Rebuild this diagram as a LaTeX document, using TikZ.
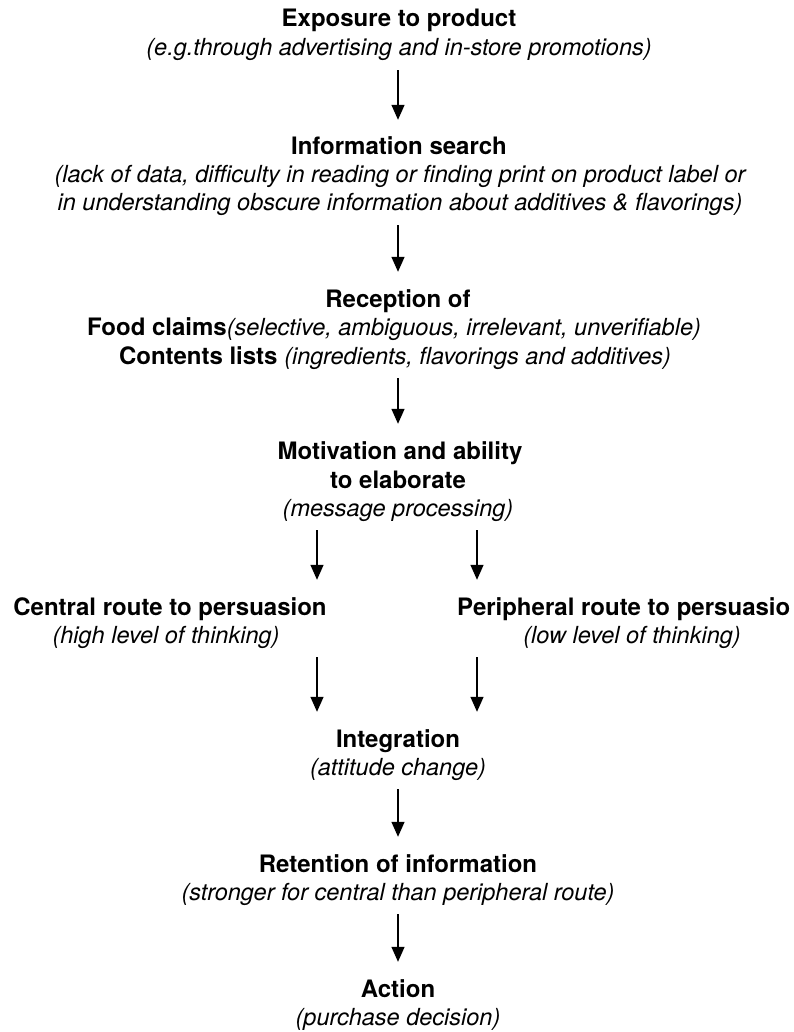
\documentclass[tikz,border=0pt]{standalone}
\usepackage{fontspec}
\setmainfont{TeX Gyre Heros}
\usetikzlibrary{arrows.meta}
\newcommand{\notefont}{\mdseries\itshape\fontsize{23.5}{28}\selectfont}
\begin{document}
\begin{tikzpicture}[x=1pt,y=-1pt,
  title/.style={font=\bfseries\fontsize{24}{29}\selectfont, inner sep=0pt,
    text height=17pt, text depth=5pt, anchor=base},
  note/.style={font=\notefont, inner sep=0pt,
    text height=17pt, text depth=5pt, anchor=base},
  flow/.style={line width=1.4pt, -{Triangle[length=15pt,width=13pt]},
    shorten <=9pt, shorten >=18pt}]
\useasboundingbox (0,0) rectangle (793,1032);
\coordinate (mid) at (398,0);
\coordinate (lx) at (317,0);
\coordinate (rx) at (477,0);

% Exposure
\node[title] (exp) at (399,27) {Exposure to product};
\node[note] (expn) at (399,56) {(e.g.through advertising and in-store promotions)};

% Information search
\node[title] (info) at (399,155) {Information search};
\node[note] (info1) at (400,183) {(lack of data, difficulty in reading or finding print on product label or};
\node[note] (info2) at (400,211) {in understanding obscure information about additives \& flavorings)};

% Reception
\node[title] (rec) at (398,307) {Reception of};
\node[title] (food) at (394,335) {Food claims{\notefont(selective, ambiguous, irrelevant, unverifiable)}};
\node[title] (cont) at (395,364) {Contents lists {\notefont(ingredients, flavorings and additives)}};

% Motivation
\node[title] (mot1) at (400,459) {Motivation and ability};
\node[title] (mot2) at (398,488) {to elaborate};
\node[note] (mot3) at (398,516) {(message processing)};

% Two routes
\node[title] (cen) at (170,615) {Central route to persuasion};
\node[note] (cenn) at (166,643) {(high level of thinking)};
\node[title, anchor=base west] (per) at (457,615) {Peripheral route to persuasio};
\node[note] (pern) at (632,643) {(low level of thinking)};

% Integration
\node[title] (integ) at (398,747) {Integration};
\node[note] (integn) at (398,775) {(attitude change)};

% Retention
\node[title] (ret) at (398,872) {Retention of information};
\node[note] (retn) at (398,900) {(stronger for central than peripheral route)};

% Action
\node[title] (act) at (398,997) {Action};
\node[note] (actn) at (398,1025) {(purchase decision)};

% connectors
\draw[flow] (expn.south -| mid) -- (info.north -| mid);
\draw[flow] (info2.south -| mid) -- (rec.north -| mid);
\draw[flow] (cont.south -| mid) -- (mot1.north -| mid);
\draw[flow] (mot3.south -| lx) -- (cen.north -| lx);
\draw[flow] (mot3.south -| rx) -- (per.north -| rx);
\draw[flow] (cenn.south -| lx) -- (integ.north -| lx);
\draw[flow] (pern.south -| rx) -- (integ.north -| rx);
\draw[flow] (integn.south -| mid) -- (ret.north -| mid);
\draw[flow] (retn.south -| mid) -- (act.north -| mid);
\end{tikzpicture}
\end{document}
